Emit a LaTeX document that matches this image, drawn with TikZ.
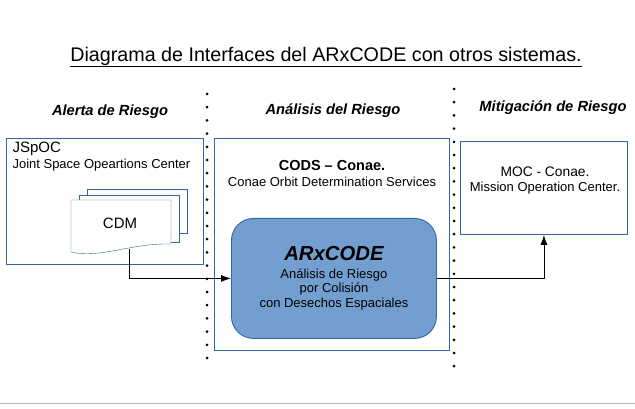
\documentclass[tikz,border=0pt]{standalone}
\usepackage{fontspec}
\setmainfont{Liberation Sans}
\usetikzlibrary{positioning,arrows.meta}
\definecolor{boxcolor}{HTML}{3465A4}
\definecolor{arxfill}{HTML}{729FCF}
\definecolor{rulecolor}{HTML}{B3B3B3}
\def\DotStep{13.2}
\def\DotR{1.5pt}

\tikzset{
  sysbox/.style={draw=boxcolor, line width=0.9pt, anchor=north west, inner sep=0pt},
  header/.style={font=\fontsize{14.7}{17}\selectfont\bfseries\itshape},
  flow/.style={-{Latex[length=10pt,width=7pt]}, line width=0.9pt}
}

\begin{document}
\begin{tikzpicture}[x=1pt,y=-1pt]
\useasboundingbox (0,0) rectangle (635,409);
\draw[rulecolor, line width=1pt] (0,403) -- (635,403);

% title and columns
\node (title) at (326,57) {\fontsize{19.7}{22}\selectfont\underline{Diagrama de Interfaces del ARxCODE con otros sistemas.}};
\node[header] (alerta) at (110,112) {Alerta de Riesgo};
\node[header] (analisis) at (333,111) {Análisis del Riesgo};
\node[header] (mitigacion) at (553,108) {Mitigación de Riesgo};

% dotted separators
\foreach \i in {0,...,20}{
    \fill (207,{94+\i*\DotStep}) circle (\DotR);
}
\foreach \i in {0,...,21}{
    \fill (454,{89+\i*\DotStep}) circle (\DotR);
}

% JSpOC
\node[sysbox, minimum width=197pt, minimum height=126pt] (jspoc) at (6,138) {};
\node[anchor=west, font=\fontsize{15}{17}\selectfont] (jspocname) at (9,149) {JSpOC};
\node[anchor=west, font=\fontsize{13}{15}\selectfont] (jspocfull) at (9,165) {Joint Space Opeartions Center};
\draw[boxcolor, fill=white] (87,189) rectangle (187,233);
\draw[boxcolor, fill=white] (79,195) rectangle (179,242);
\draw[boxcolor, fill=white] (71,200) -- (71,252) .. controls (100,259) and (130,243) .. (171,244) -- (171,200) -- cycle;
\node[font=\fontsize{15}{17}\selectfont] (cdm) at (120,223) {CDM};
\coordinate (cdmout) at (129,249);

% CODS
\node[sysbox, minimum width=235pt, minimum height=212pt] (cods) at (214,138) {};
\node[font=\fontsize{14.5}{17}\selectfont\bfseries] (codsname) at (332,166) {CODS -- Conae.};
\node[font=\fontsize{13}{15}\selectfont] (codsfull) at (332,182) {Conae Orbit Determination Services};
\node[sysbox, fill=arxfill, rounded corners=22pt, minimum width=205pt, minimum height=120pt,
      align=center, font=\fontsize{13}{14.5}\selectfont] (arx) at (231,218)
      {{\fontsize{20.3}{22}\selectfont\bfseries\itshape ARxCODE}\\[3pt]Análisis de Riesgo\\por Colisión\\con Desechos Espaciales};

% MOC
\node[sysbox, minimum width=167pt, minimum height=93pt] (moc) at (460,141) {};
\node[font=\fontsize{13.8}{16}\selectfont] (mocname) at (545,172) {MOC - Conae.};
\node[font=\fontsize{13}{15}\selectfont] (mocfull) at (545,188) {Mission Operation Center.};

% interfaces
\draw[flow] (cdmout) |- (arx.west);
\draw[flow] (arx.east) -| (moc.south);
\end{tikzpicture}
\end{document}
